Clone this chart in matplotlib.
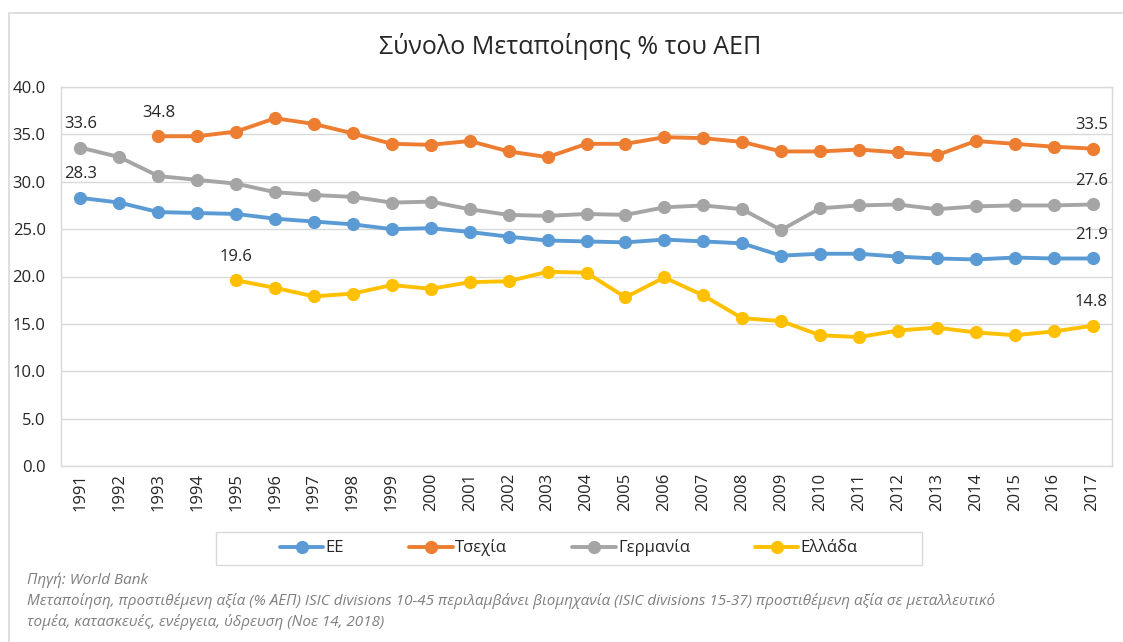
import numpy as np
import matplotlib.pyplot as plt
from matplotlib.patches import Rectangle

plt.rcParams['font.family'] = ['Open Sans', 'DejaVu Sans']

years = list(range(1991, 2018))

# Τιμές % του ΑΕΠ (None = χωρίς στοιχεία)
ee = [28.3, 27.8, 26.8, 26.7, 26.6, 26.1, 25.8, 25.5, 25.0, 25.1,
      24.7, 24.2, 23.8, 23.7, 23.6, 23.9, 23.7, 23.5, 22.2, 22.4,
      22.4, 22.1, 21.9, 21.8, 22.0, 21.9, 21.9]
tsexia = [None, None, 34.8, 34.8, 35.3, 36.7, 36.1, 35.1, 34.0, 33.9,
          34.3, 33.2, 32.6, 34.0, 34.0, 34.7, 34.6, 34.2, 33.2, 33.2,
          33.4, 33.1, 32.8, 34.3, 34.0, 33.7, 33.5]
germania = [33.6, 32.6, 30.6, 30.2, 29.8, 28.9, 28.6, 28.4, 27.8, 27.9,
            27.1, 26.5, 26.4, 26.6, 26.5, 27.3, 27.5, 27.1, 24.9, 27.2,
            27.5, 27.6, 27.1, 27.4, 27.5, 27.5, 27.6]
ellada = [None, None, None, None, 19.6, 18.8, 17.9, 18.2, 19.1, 18.7,
          19.4, 19.5, 20.5, 20.4, 17.8, 19.9, 18.0, 15.6, 15.3, 13.8,
          13.6, 14.3, 14.6, 14.1, 13.8, 14.2, 14.8]

series = [("ΕΕ", ee, "#5B9BD5"),
          ("Τσεχία", tsexia, "#ED7D31"),
          ("Γερμανία", germania, "#A5A5A5"),
          ("Ελλάδα", ellada, "#FFC000")]

fig = plt.figure(figsize=(11.23, 6.42), dpi=100)
ax = fig.add_axes([61/1123, 1-466/642, (1112-61)/1123, (466-87)/642])

# εξωτερικό πλαίσιο γραφήματος
fig.patches.append(Rectangle((9/1123, -0.2), 1.2, 1-13/642+0.2, transform=fig.transFigure,
                             fill=False, edgecolor="#d9d9d9", lw=1.2))

for name, vals, col in series:
    y = np.array([np.nan if v is None else v for v in vals])
    ax.plot(years, y, color=col, lw=2.8, marker="o", markersize=8.5, label=name,
            solid_capstyle="round", zorder=3)
    idx = [i for i, v in enumerate(vals) if v is not None]
    first, last = idx[0], idx[-1]
    ax.annotate(f"{vals[first]:.1f}", (years[first], vals[first]), xytext=(0, 17),
                textcoords="offset points", ha="center", va="center",
                fontsize=12, color="#262626")
    ax.annotate(f"{vals[last]:.1f}", (years[last], vals[last]), xytext=(11, 17),
                textcoords="offset points", ha="right", va="center",
                fontsize=12, color="#262626")

ax.set_xlim(1990.5, 2017.5)
ax.set_ylim(0, 40)
ax.set_yticks(np.arange(0, 40.1, 5))
ax.set_yticklabels([f"{v:.1f}" for v in np.arange(0, 40.1, 5)])
ax.set_xticks(years)
ax.set_xticklabels([str(y) for y in years], rotation=90)
ax.tick_params(axis="both", length=0, labelsize=12, colors="#262626")
ax.tick_params(axis="y", pad=11)
ax.tick_params(axis="x", pad=5)
ax.grid(axis="y", color="#d9d9d9", lw=1)
ax.set_axisbelow(True)
for s in ax.spines.values():
    s.set_color("#d9d9d9")
    s.set_linewidth(1)

fig.text(570/1123, 1-47/642, "Σύνολο Μεταποίησης % του ΑΕΠ", ha="center", va="center",
         fontsize=18, color="#262626")

# πλαίσιο υπομνήματος
fig.patches.append(Rectangle((216/1123, 1-565/642), 706/1123, 33/642,
                             transform=fig.transFigure, fill=False,
                             edgecolor="#d9d9d9", lw=1))
fig.legend(loc="center", bbox_to_anchor=(569/1123, 1-548/642), ncol=4, frameon=False,
           fontsize=12, handlelength=2.6, handletextpad=0.15, columnspacing=3.9,
           labelcolor="#262626")

fig.text(27/1123, 1-580/642, "Πηγή: World Bank", fontsize=11, style="italic",
         color="#7f7f7f", va="center")
fig.text(27/1123, 1-601/642,
         "Μεταποίηση, προστιθέμενη αξία (% ΑΕΠ) ISIC divisions 10-45 περιλαμβάνει βιομηχανία "
         "(ISIC divisions 15-37) προστιθέμενη αξία σε μεταλλευτικό",
         fontsize=11, style="italic", color="#7f7f7f", va="center")
fig.text(27/1123, 1-622/642, "τομέα, κατασκευές, ενέργεια, ύδρευση (Νοε 14, 2018)",
         fontsize=11, style="italic", color="#7f7f7f", va="center")

fig.savefig("out.png", dpi=100)
